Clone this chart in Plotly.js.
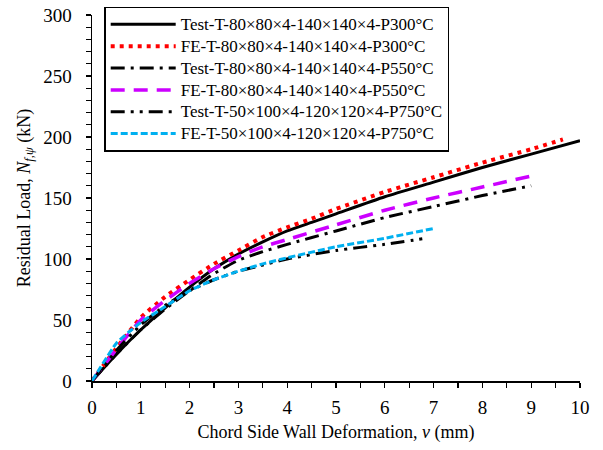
<!DOCTYPE html>
<html>
<head>
<meta charset="utf-8">
<script src="https://cdn.plot.ly/plotly-3.0.1.min.js"></script>
<style>html,body{margin:0;padding:0;background:#fff;}#chart{width:603px;height:450px;}</style>
</head>
<body>
<div id="chart"></div>
<script>
const seriesNames = [
  "Test-T-80×80×4-140×140×4-P300°C",
  "FE-T-80×80×4-140×140×4-P300°C",
  "Test-T-80×80×4-140×140×4-P550°C",
  "FE-T-80×80×4-140×140×4-P550°C",
  "Test-T-50×100×4-120×120×4-P750°C",
  "FE-T-50×100×4-120×120×4-P750°C"
];

const testP300_v = [0, 0.5, 1, 1.5, 2, 2.5, 3, 3.5, 4, 4.5, 5, 6, 7, 8, 9, 10];
const testP300_N = [0, 22, 42, 60, 77, 92, 104, 114, 123, 130, 137, 151, 163, 175, 186, 197];

const feP300_v = [0, 0.5, 1, 1.5, 2, 2.5, 3, 3.5, 4, 4.5, 5, 6, 7, 8, 9, 9.65];
const feP300_N = [0, 27, 52, 69, 83, 96, 107, 118, 126, 133, 141, 155, 167, 179, 190, 198];

const testP550_v = [0, 0.5, 1, 1.5, 2, 2.5, 3, 3.5, 4, 5, 6, 7, 8, 9];
const testP550_N = [0, 22, 42, 59, 74, 88, 99, 106, 112, 123, 134, 143, 152, 160];

const feP550_v = [0, 0.5, 1, 1.5, 2, 2.5, 3, 3.5, 4, 5, 6, 7, 8, 9];
const feP550_N = [0, 26, 50, 66, 80, 92, 102, 110, 116, 128, 140, 150, 159, 168];

const testP750_v = [0, 0.5, 1, 1.5, 2, 2.5, 3, 3.5, 4, 5, 6, 6.85];
const testP750_N = [0, 25, 46, 62, 74, 83, 90, 95, 100, 107, 112, 117];

const feP750_v = [0, 0.5, 0.75, 1, 1.5, 2, 2.5, 3, 3.5, 4, 5, 6, 7];
const feP750_N = [0, 31, 40, 48, 61, 74, 83, 90, 96, 101, 110, 117, 125];

const xs = [testP300_v, feP300_v, testP550_v, feP550_v, testP750_v, feP750_v];
const ys = [testP300_N, feP300_N, testP550_N, feP550_N, testP750_N, feP750_N];
const styles = [
  {color: "#000000", width: 3, dash: "solid"},
  {color: "#FF0000", width: 4, dash: "4px,5px"},
  {color: "#000000", width: 3, dash: "14px,6px,3px,6px"},
  {color: "#CC00FF", width: 3.5, dash: "14px,9px"},
  {color: "#000000", width: 3, dash: "14px,6px,3px,6px,3px,6px"},
  {color: "#00B0F0", width: 3, dash: "7px,3px"}
];

const traces = seriesNames.map((name, i) => ({
  type: "scatter",
  mode: "lines",
  name: '<span style="font-size:17px">' + name + '</span>',
  x: xs[i],
  y: ys[i],
  line: Object.assign({shape: "spline", smoothing: 0.5}, styles[i])
}));

const FONT = "'Liberation Serif', 'Times New Roman', Times, serif";

const layout = {
  width: 603,
  height: 450,
  margin: {l: 92, r: 23, t: 15, b: 69, autoexpand: false},
  paper_bgcolor: "#ffffff",
  plot_bgcolor: "#ffffff",
  font: {family: FONT, color: "#000", size: 17},
  showlegend: true,
  legend: {
    x: 0.025, y: 1.022, xanchor: "left", yanchor: "top",
    bordercolor: "#000", borderwidth: 1.5, bgcolor: "#fff",
    font: {family: FONT, size: 14.5, color: "#000"},
    itemwidth: 65, tracegroupgap: 0
  },
  xaxis: {
    range: [0, 10], dtick: 1, tick0: 0,
    showgrid: false, zeroline: false,
    showline: true, linecolor: "#000", linewidth: 1.5,
    ticks: "outside", ticklen: 5, tickwidth: 1.2, tickcolor: "#000",
    minor: {dtick: 0.5, ticks: "outside", ticklen: 5, tickwidth: 1.2, tickcolor: "#000", showgrid: false},
    tickfont: {family: FONT, size: 19},
    ticklabelstandoff: 4,
    title: {text: "Chord Side Wall Deformation, <i>v</i> (mm)", font: {family: FONT, size: 18}, standoff: 8}
  },
  yaxis: {
    range: [0, 300], dtick: 50, tick0: 0,
    showgrid: false, zeroline: false,
    showline: true, linecolor: "#000", linewidth: 1.5,
    ticks: "outside", ticklen: 5, tickwidth: 1.2, tickcolor: "#000",
    minor: {dtick: 10, ticks: "outside", ticklen: 5, tickwidth: 1.2, tickcolor: "#000", showgrid: false},
    tickfont: {family: FONT, size: 19},
    ticklabelstandoff: 10,
    title: {text: "Residual Load, <i>N</i><sub><i>f,ψ</i></sub> (kN)", font: {family: FONT, size: 18}, standoff: 8}
  }
};

Plotly.newPlot("chart", traces, layout, {displayModeBar: false, staticPlot: true});
</script>
</body>
</html>
